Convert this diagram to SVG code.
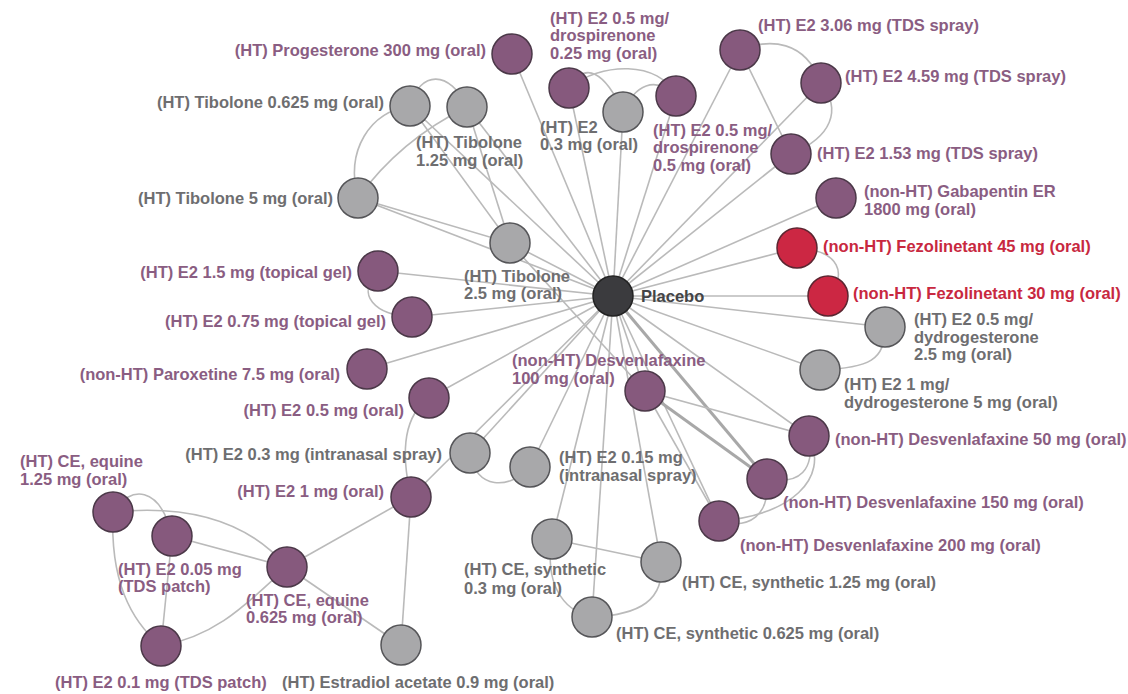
<svg xmlns="http://www.w3.org/2000/svg" width="1128" height="694" viewBox="0 0 1128 694">
<style>
.e{stroke:#bababa;stroke-width:1.6;fill:none}
.e2{stroke:#a8a8a8;stroke-width:3;fill:none}
.np{fill:#86597d;stroke:#4b3848;stroke-width:1.5}
.ng{fill:#a8a8aa;stroke:#555558;stroke-width:1.5}
.nr{fill:#cc2743;stroke:#5c2631;stroke-width:1.5}
.nk{fill:#3b3b3e;stroke:#222;stroke-width:1.5}
text{font-family:"Liberation Sans",Arial,sans-serif;font-weight:bold;font-size:16.5px}
.tp{fill:#8a5d82}
.tg{fill:#6e6e70}
.tr{fill:#c8283f}
.tk{fill:#444446}
.end{text-anchor:end}
</style>
<rect width="1128" height="694" fill="#ffffff"/>
<g id="connectors">
<line class="e" x1="613" y1="296" x2="512" y2="54"/>
<line class="e" x1="613" y1="296" x2="569" y2="88"/>
<line class="e" x1="613" y1="296" x2="623" y2="112"/>
<line class="e" x1="613" y1="296" x2="676" y2="96"/>
<line class="e" x1="613" y1="296" x2="410" y2="106"/>
<line class="e" x1="613" y1="296" x2="467" y2="107"/>
<line class="e" x1="613" y1="296" x2="358" y2="198"/>
<line class="e" x1="613" y1="296" x2="510" y2="243"/>
<line class="e" x1="613" y1="296" x2="740" y2="50"/>
<line class="e" x1="613" y1="296" x2="821" y2="83"/>
<line class="e" x1="613" y1="296" x2="791" y2="154"/>
<line class="e" x1="613" y1="296" x2="836" y2="198"/>
<line class="e" x1="613" y1="296" x2="797" y2="248"/>
<line class="e" x1="613" y1="296" x2="828" y2="296"/>
<line class="e" x1="613" y1="296" x2="885" y2="327"/>
<line class="e" x1="613" y1="296" x2="820" y2="370"/>
<line class="e" x1="613" y1="296" x2="809" y2="436"/>
<line class="e" x1="613" y1="296" x2="645" y2="391"/>
<line class="e2" x1="613" y1="296" x2="767" y2="479"/>
<line class="e" x1="613" y1="296" x2="719" y2="521"/>
<line class="e" x1="613" y1="296" x2="378" y2="271"/>
<line class="e" x1="613" y1="296" x2="412" y2="317"/>
<line class="e" x1="613" y1="296" x2="367" y2="369"/>
<line class="e" x1="613" y1="296" x2="429" y2="398"/>
<line class="e" x1="613" y1="296" x2="470" y2="453"/>
<line class="e" x1="613" y1="296" x2="530" y2="467"/>
<line class="e" x1="613" y1="296" x2="411" y2="497"/>
<line class="e" x1="613" y1="296" x2="552" y2="539"/>
<line class="e" x1="613" y1="296" x2="661" y2="562"/>
<line class="e" x1="613" y1="296" x2="592" y2="617"/>
<line class="e" x1="410" y1="106" x2="510" y2="243"/>
<line class="e" x1="467" y1="107" x2="510" y2="243"/>
<line class="e" x1="358" y1="198" x2="510" y2="243"/>
<path class="e" d="M358 198 Q 400 140 467 107"/>
<path class="e" d="M358 198 C 345 150 370 112 410 106"/>
<path class="e" d="M410 106 C 420 70 450 70 467 107"/>
<line class="e" x1="510" y1="243" x2="645" y2="391"/>
<path class="e" d="M569 88 C 585 60 605 72 623 112"/>
<path class="e" d="M569 88 C 600 62 660 60 676 96"/>
<path class="e" d="M623 112 C 635 85 655 75 676 96"/>
<path class="e" d="M740 50 C 770 38 805 40 821 83"/>
<line class="e" x1="740" y1="50" x2="791" y2="154"/>
<path class="e" d="M821 83 C 842 110 832 137 791 154"/>
<path class="e" d="M797 248 C 840 250 848 275 828 296"/>
<path class="e" d="M885 327 C 885 360 870 368 820 370"/>
<line class="e" x1="645" y1="391" x2="809" y2="436"/>
<line class="e2" x1="645" y1="391" x2="767" y2="479"/>
<line class="e" x1="645" y1="391" x2="719" y2="521"/>
<path class="e" d="M809 436 C 815 470 800 485 767 479"/>
<path class="e" d="M809 436 C 830 480 790 515 719 521"/>
<path class="e" d="M767 479 C 770 515 750 530 719 521"/>
<path class="e" d="M378 271 C 355 295 375 315 412 317"/>
<path class="e" d="M470 453 C 475 490 510 490 530 467"/>
<path class="e" d="M429 398 C 405 415 400 450 411 497"/>
<line class="e" x1="411" y1="497" x2="401" y2="645"/>
<line class="e" x1="411" y1="497" x2="287" y2="567"/>
<line class="e" x1="287" y1="567" x2="401" y2="645"/>
<path class="e" d="M113 512 Q 230 500 287 567"/>
<path class="e" d="M113 512 C 130 485 160 485 172 536"/>
<path class="e" d="M113 512 C 110 580 130 620 161 646"/>
<line class="e" x1="172" y1="536" x2="161" y2="646"/>
<line class="e" x1="172" y1="536" x2="287" y2="567"/>
<path class="e" d="M161 646 C 220 635 250 600 287 567"/>
<line class="e" x1="552" y1="539" x2="661" y2="562"/>
<path class="e" d="M552 539 C 545 580 560 610 592 617"/>
<path class="e" d="M661 562 C 665 600 640 615 592 617"/>
</g>
<g id="n-placebo"><circle class="nk" cx="613" cy="296" r="20"/><text class="tk" x="641" y="302">Placebo</text></g>
<g id="n-prog300"><circle class="np" cx="512" cy="54" r="20"/><text class="tp end" x="486" y="56">(HT) Progesterone 300 mg (oral)</text></g>
<g id="n-drsp025"><circle class="np" cx="569" cy="88" r="20"/><text class="tp" x="550" y="24">(HT) E2 0.5 mg/</text><text class="tp" x="550" y="41">drospirenone</text><text class="tp" x="550" y="59">0.25 mg (oral)</text></g>
<g id="n-e2-03oral"><circle class="ng" cx="623" cy="112" r="20"/><text class="tg" x="540" y="133">(HT) E2</text><text class="tg" x="540" y="150">0.3 mg (oral)</text></g>
<g id="n-drsp05"><circle class="np" cx="676" cy="96" r="20"/><text class="tp" x="653" y="136">(HT) E2 0.5 mg/</text><text class="tp" x="653" y="153">drospirenone</text><text class="tp" x="653" y="171">0.5 mg (oral)</text></g>
<g id="n-tib0625"><circle class="ng" cx="410" cy="106" r="20"/><text class="tg end" x="384" y="108">(HT) Tibolone 0.625 mg (oral)</text></g>
<g id="n-tib125"><circle class="ng" cx="467" cy="107" r="20"/><text class="tg" x="416" y="148">(HT) Tibolone</text><text class="tg" x="416" y="166">1.25 mg (oral)</text></g>
<g id="n-tib5"><circle class="ng" cx="358" cy="198" r="20"/><text class="tg end" x="333" y="204">(HT) Tibolone 5 mg (oral)</text></g>
<g id="n-tib25"><circle class="ng" cx="510" cy="243" r="20"/><text class="tg" x="464" y="282">(HT) Tibolone</text><text class="tg" x="464" y="299">2.5 mg (oral)</text></g>
<g id="n-spray306"><circle class="np" cx="740" cy="50" r="20"/><text class="tp" x="758" y="31">(HT) E2 3.06 mg (TDS spray)</text></g>
<g id="n-spray459"><circle class="np" cx="821" cy="83" r="20"/><text class="tp" x="845" y="82">(HT) E2 4.59 mg (TDS spray)</text></g>
<g id="n-spray153"><circle class="np" cx="791" cy="154" r="20"/><text class="tp" x="817" y="159">(HT) E2 1.53 mg (TDS spray)</text></g>
<g id="n-gaba"><circle class="np" cx="836" cy="198" r="20"/><text class="tp" x="864" y="197">(non-HT) Gabapentin ER</text><text class="tp" x="864" y="215">1800 mg (oral)</text></g>
<g id="n-fez45"><circle class="nr" cx="797" cy="248" r="20"/><text class="tr" x="823" y="252">(non-HT) Fezolinetant 45 mg (oral)</text></g>
<g id="n-fez30"><circle class="nr" cx="828" cy="296" r="20"/><text class="tr" x="853" y="299">(non-HT) Fezolinetant 30 mg (oral)</text></g>
<g id="n-dyd25"><circle class="ng" cx="885" cy="327" r="20"/><text class="tg" x="914" y="325">(HT) E2 0.5 mg/</text><text class="tg" x="914" y="343">dydrogesterone</text><text class="tg" x="914" y="360">2.5 mg (oral)</text></g>
<g id="n-dyd5"><circle class="ng" cx="820" cy="370" r="20"/><text class="tg" x="844" y="390">(HT) E2 1 mg/</text><text class="tg" x="844" y="408">dydrogesterone 5 mg (oral)</text></g>
<g id="n-dv50"><circle class="np" cx="809" cy="436" r="20"/><text class="tp" x="835" y="445">(non-HT) Desvenlafaxine 50 mg (oral)</text></g>
<g id="n-dv100"><circle class="np" cx="645" cy="391" r="20"/><text class="tp" x="512" y="366">(non-HT) Desvenlafaxine</text><text class="tp" x="512" y="384">100 mg (oral)</text></g>
<g id="n-dv150"><circle class="np" cx="767" cy="479" r="20"/><text class="tp" x="783" y="508">(non-HT) Desvenlafaxine 150 mg (oral)</text></g>
<g id="n-dv200"><circle class="np" cx="719" cy="521" r="20"/><text class="tp" x="740" y="551">(non-HT) Desvenlafaxine 200 mg (oral)</text></g>
<g id="n-gel15"><circle class="np" cx="378" cy="271" r="20"/><text class="tp end" x="352" y="278">(HT) E2 1.5 mg (topical gel)</text></g>
<g id="n-gel075"><circle class="np" cx="412" cy="317" r="20"/><text class="tp end" x="386" y="327">(HT) E2 0.75 mg (topical gel)</text></g>
<g id="n-parox"><circle class="np" cx="367" cy="369" r="20"/><text class="tp end" x="340" y="380">(non-HT) Paroxetine 7.5 mg (oral)</text></g>
<g id="n-e2-05oral"><circle class="np" cx="429" cy="398" r="20"/><text class="tp end" x="404" y="416">(HT) E2 0.5 mg (oral)</text></g>
<g id="n-nasal03"><circle class="ng" cx="470" cy="453" r="20"/><text class="tg end" x="442" y="460">(HT) E2 0.3 mg (intranasal spray)</text></g>
<g id="n-nasal015"><circle class="ng" cx="530" cy="467" r="20"/><text class="tg" x="559" y="463">(HT) E2 0.15 mg</text><text class="tg" x="559" y="481">(intranasal spray)</text></g>
<g id="n-e2-1oral"><circle class="np" cx="411" cy="497" r="20"/><text class="tp end" x="384" y="497">(HT) E2 1 mg (oral)</text></g>
<g id="n-eacet"><circle class="ng" cx="401" cy="645" r="20"/><text class="tg" x="282" y="688">(HT) Estradiol acetate 0.9 mg (oral)</text></g>
<g id="n-ces03"><circle class="ng" cx="552" cy="539" r="20"/><text class="tg" x="464" y="575">(HT) CE, synthetic</text><text class="tg" x="464" y="594">0.3 mg (oral)</text></g>
<g id="n-ces125"><circle class="ng" cx="661" cy="562" r="20"/><text class="tg" x="682" y="588">(HT) CE, synthetic 1.25 mg (oral)</text></g>
<g id="n-ces0625"><circle class="ng" cx="592" cy="617" r="20"/><text class="tg" x="616" y="639">(HT) CE, synthetic 0.625 mg (oral)</text></g>
<g id="n-cee125"><circle class="np" cx="113" cy="512" r="20"/><text class="tp" x="20" y="467">(HT) CE, equine</text><text class="tp" x="20" y="485">1.25 mg (oral)</text></g>
<g id="n-patch005"><circle class="np" cx="172" cy="536" r="20"/><text class="tp" x="118" y="575">(HT) E2 0.05 mg</text><text class="tp" x="118" y="592">(TDS patch)</text></g>
<g id="n-cee0625"><circle class="np" cx="287" cy="567" r="20"/><text class="tp" x="246" y="606">(HT) CE, equine</text><text class="tp" x="246" y="623">0.625 mg (oral)</text></g>
<g id="n-patch01"><circle class="np" cx="161" cy="646" r="20"/><text class="tp" x="55" y="688">(HT) E2 0.1 mg (TDS patch)</text></g>
</svg>
